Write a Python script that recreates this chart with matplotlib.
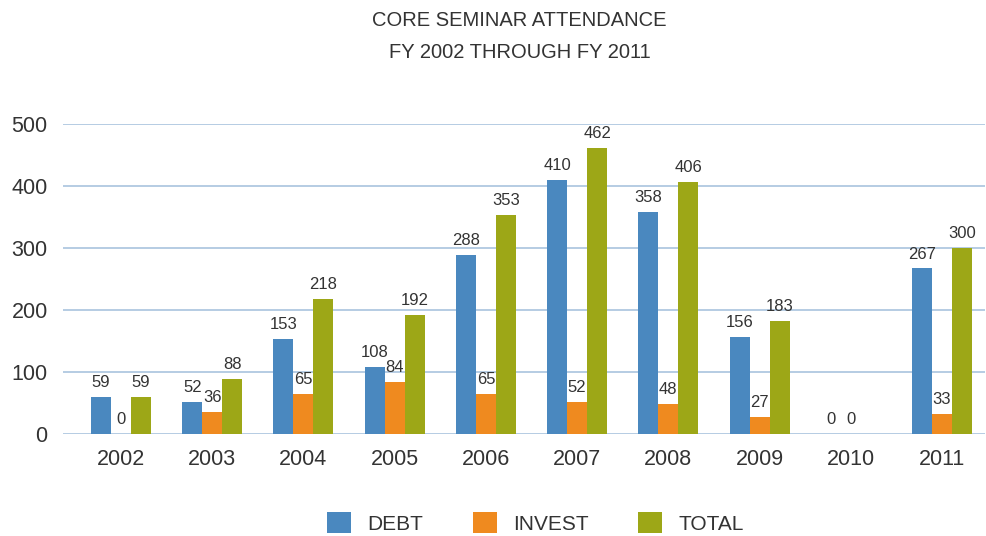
import matplotlib
matplotlib.use("Agg")
import matplotlib.pyplot as plt
from matplotlib.patches import Patch
import numpy as np

years = ["2002", "2003", "2004", "2005", "2006", "2007", "2008", "2009", "2010", "2011"]
debt = [59, 52, 153, 108, 288, 410, 358, 156, 0, 267]
invest = [0, 36, 65, 84, 65, 52, 48, 27, 0, 33]
total = [59, 88, 218, 192, 353, 462, 406, 183, None, 300]
series_names = ["DEBT", "INVEST", "TOTAL"]
colors = ["#4A88BF", "#EF8A1F", "#9DA717"]
yticks = [0, 100, 200, 300, 400, 500]

plt.rcParams['font.family'] = ['Liberation Sans', 'DejaVu Sans']
fig = plt.figure(figsize=(9.86, 5.36), dpi=100)
ax = fig.add_axes([63/986, (536-434)/536, 922/986, 310/536])

x = np.arange(len(years))
w = 0.219
text_color = "#333333"
for i, (vals, name, c) in enumerate(zip([debt, invest, total], series_names, colors)):
    for xi, v in zip(x, vals):
        if v is None:
            continue
        pos = xi + (i - 1) * w
        ax.bar(pos, v, width=w, color=c, zorder=3)
        ax.annotate(str(v), (pos, v), xytext=(0, 5), textcoords="offset points",
                    ha="center", va="bottom", fontsize=12, color=text_color,
                    annotation_clip=False)

ax.set_ylim(0, 500)
ax.set_xlim(-0.636, 9.471)
ax.set_yticks(yticks)
ax.set_yticklabels([str(t) for t in yticks], fontsize=15.5, color=text_color)
ax.set_xticks(x)
ax.set_xticklabels(years, fontsize=15.5, color=text_color)
ax.tick_params(axis="y", length=0, pad=11)
ax.tick_params(axis="x", length=0, pad=11)
ax.grid(axis="y", color="#A9C3DE", linewidth=1.2, zorder=0)
for s in ax.spines.values():
    s.set_visible(False)

fig.text(0.527, 1 - 20/536, "CORE SEMINAR ATTENDANCE", ha="center", va="center",
         fontsize=14.5, color=text_color)
fig.text(0.527, 1 - 52/536, "FY 2002 THROUGH FY 2011", ha="center", va="center",
         fontsize=14.5, color=text_color)

handles = [Patch(facecolor=c, label=n) for c, n in zip(colors, series_names)]
leg = fig.legend(handles=handles, loc="center", bbox_to_anchor=(0.543, 1 - 523/536), ncol=3,
                 frameon=False, fontsize=15, handlelength=1.15, handleheight=1.15,
                 handletextpad=0.77, columnspacing=2.4, labelcolor=text_color)

fig.savefig("out.png", dpi=100)
